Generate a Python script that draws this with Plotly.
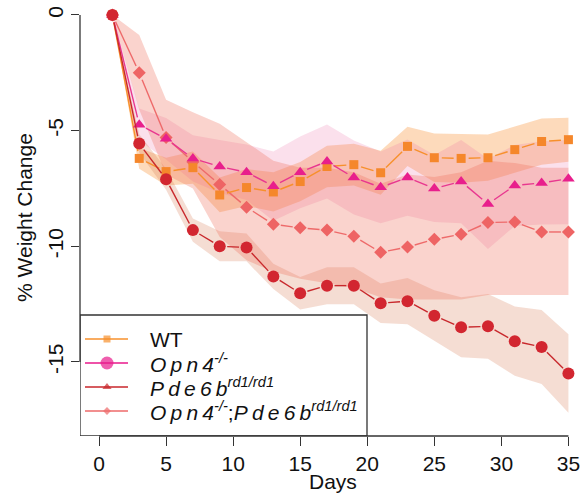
import math
import plotly.graph_objects as go

# ---------------- data ----------------
days = [1, 3, 5, 7, 9, 11, 13, 15, 17, 19, 21, 23, 25, 27, 29, 31, 33, 35]

wt_mean = [0, -6.2, -6.77, -6.6, -7.78, -7.46, -7.65, -7.2, -6.55, -6.47, -6.82, -5.68, -6.17, -6.2, -6.17, -5.82, -5.47, -5.39]
wt_upper = [0, -5.75, -6.17, -5.9, -7.03, -6.66, -6.8, -6.35, -5.65, -5.57, -5.87, -4.83, -5.12, -5.15, -5.17, -4.82, -4.47, -4.44]
wt_lower = [0, -6.65, -7.37, -7.3, -8.53, -8.26, -8.5, -8.05, -7.45, -7.37, -7.77, -6.53, -7.22, -7.25, -7.17, -6.82, -6.47, -6.34]

opn_mean = [0, -4.74, -5.35, -6.2, -6.55, -6.8, -7.4, -6.8, -6.33, -7.03, -7.45, -7.03, -7.5, -7.2, -8.17, -7.37, -7.26, -7.08]
opn_upper = [0, -4.04, -4.45, -5.2, -5.4, -5.6, -5.9, -5.25, -4.73, -5.43, -5.9, -5.38, -6.05, -5.4, -6.22, -5.62, -5.46, -5.4]
opn_lower = [0, -5.44, -6.25, -7.2, -7.7, -8.0, -8.9, -8.35, -7.93, -8.63, -9.0, -8.68, -8.95, -9.0, -10.12, -9.12, -9.06, -9.05]

pde_mean = [0, -5.56, -7.1, -9.3, -10.0, -10.05, -11.3, -12.03, -11.7, -11.7, -12.46, -12.37, -13.0, -13.5, -13.46, -14.1, -14.35, -15.5]
pde_upper = [0, -5.16, -6.65, -8.8, -9.35, -9.45, -10.75, -11.33, -10.9, -10.9, -11.61, -11.37, -11.9, -12.2, -12.06, -12.6, -12.75, -13.8]
pde_lower = [0, -5.96, -7.55, -9.8, -10.65, -10.65, -11.85, -12.73, -12.5, -12.5, -13.31, -13.37, -14.1, -14.8, -14.86, -15.6, -15.95, -17.2]

dko_mean = [0, -2.5, -5.3, -6.35, -7.33, -8.31, -9.05, -9.2, -9.3, -9.57, -10.26, -10.03, -9.7, -9.48, -8.97, -8.95, -9.38, -9.38]
dko_upper = [0, -0.86, -3.66, -4.2, -4.7, -5.5, -6.3, -6.6, -6.6, -6.8, -7.3, -6.9, -7.0, -6.8, -6.3, -6.4, -6.6, -6.6]
dko_lower = [0, -4.1, -6.9, -7.5, -9.6, -10.6, -11.1, -11.4, -11.6, -11.8, -12.2, -12.3, -12.3, -12.3, -12.1, -12.1, -12.1, -12.1]

x_ticks = [0, 5, 10, 15, 20, 25, 30, 35]
y_ticks = [0, -5, -10, -15]
x_title = "Days"
y_title = "% Weight Change"
TS = "\u2009"  # thin space to mimic the wide letter spacing of the italic labels
legend_labels = [
    "WT",
    "<i>" + TS.join("Opn4") + "</i><sup><i>-/-</i></sup>",
    "<i>" + TS.join("Pde6b") + "</i><sup><i>rd1/rd1</i></sup>",
    "<i>" + TS.join("Opn4") + "</i><sup><i>-/-</i></sup>;<i>" + TS.join("Pde6b") + "</i><sup><i>rd1/rd1</i></sup>",
]

# ---------------- layout geometry ----------------
W, H = 586, 499
ML, MR, MT, MB = 80, 0, 0, 63
PW, PH = W - ML - MR, H - MT - MB
XR = [-1.417, 36.31]
YR = [-18.2, 0.648]
SX = PW / (XR[1] - XR[0])
SY = PH / (YR[1] - YR[0])
FONT = "Liberation Sans, Arial, sans-serif"
FS = 21
AX = "#333333"

fig = go.Figure()

# ---------------- bands ----------------
bands = [
    (wt_upper, wt_lower, "rgba(248,150,60,0.35)"),
    (opn_upper, opn_lower, "rgba(235,100,160,0.20)"),
    (pde_upper, pde_lower, "rgba(215,120,80,0.25)"),
    (dko_upper, dko_lower, "rgba(240,110,90,0.30)"),
]
for up, lo, col in bands:
    fig.add_trace(go.Scatter(
        x=days + days[::-1], y=up + lo[::-1], fill="toself", fillcolor=col,
        line=dict(width=0), mode="lines", hoverinfo="skip", showlegend=False))


# ---------------- lines with gaps around points (like R type="b") ----------------
def gapped(xs, ys, gap=7.5):
    gx, gy = [], []
    for i in range(len(xs) - 1):
        dx = (xs[i + 1] - xs[i]) * SX
        dy = (ys[i + 1] - ys[i]) * SY
        L = math.hypot(dx, dy)
        if L <= 2 * gap:
            continue
        f = gap / L
        gx += [xs[i] + f * (xs[i + 1] - xs[i]), xs[i + 1] - f * (xs[i + 1] - xs[i]), None]
        gy += [ys[i] + f * (ys[i + 1] - ys[i]), ys[i + 1] - f * (ys[i + 1] - ys[i]), None]
    return gx, gy


series = [
    (dko_mean, "#ee6a6a", "#ee6464", "diamond", 10),
    (wt_mean, "#f7902c", "#f5872b", "square", 9),
    (opn_mean, "#e8378f", "#e81f8c", "triangle-up", 11),
    (pde_mean, "#c8282c", "#d22630", "circle", 12),
]
for ys, lcol, mcol, sym, sz in series:
    gx, gy = gapped(days, ys)
    fig.add_trace(go.Scatter(x=gx, y=gy, mode="lines", line=dict(color=lcol, width=1.4),
                             hoverinfo="skip", showlegend=False))
    fig.add_trace(go.Scatter(x=days, y=ys, mode="markers",
                             marker=dict(symbol=sym, size=sz, color=mcol, line=dict(width=0)),
                             showlegend=False))

# ---------------- axis lines (R style, only between end ticks) ----------------
fig.add_shape(type="line", xref="x", yref="paper", x0=x_ticks[0], x1=x_ticks[-1], y0=0, y1=0,
              line=dict(color=AX, width=1.3))
fig.add_shape(type="line", xref="paper", yref="y", x0=0, x1=0, y0=y_ticks[-1], y1=y_ticks[0],
              line=dict(color=AX, width=1.3))

# ---------------- legend (overlay axes in pixel units) ----------------
LX0, LX1, LY0, LY1 = 80, 367, 315, 436
fig.add_trace(go.Scatter(x=[LX0, LX1, LX1, LX0, LX0], y=[LY0, LY0, LY1, LY1, LY0],
                         xaxis="x2", yaxis="y2", mode="lines", fill="toself", fillcolor="white",
                         line=dict(color=AX, width=1.3), hoverinfo="skip", showlegend=False))
leg_keys = [
    ("#f7902c", "square", 7),
    ("#e8198b", "circle", 13),
    ("#c8262b", "triangle-up", 8),
    ("#ee6a6a", "diamond", 6),
]
leg_y = [339, 363, 387, 411]
for (col, sym, sz), yy, lab in zip(leg_keys, leg_y, legend_labels):
    fig.add_trace(go.Scatter(x=[85, 107, 128], y=[yy] * 3, xaxis="x2", yaxis="y2",
                             mode="lines+markers", line=dict(color=col, width=1.6),
                             marker=dict(symbol=sym, size=[0, sz, 0], color=col, line=dict(width=0)),
                             hoverinfo="skip", showlegend=False))
    fig.add_annotation(x=148, y=yy, xref="x2", yref="y2", text=lab, showarrow=False,
                       xanchor="left", yanchor="middle", font=dict(size=FS, color="#111111", family=FONT))

# axis titles (paper coordinates)
fig.add_annotation(x=0.5, xref="paper", y=-(482 - (H - MB)) / PH, yref="paper", text=x_title,
                   showarrow=False, xanchor="center", yanchor="middle",
                   font=dict(size=FS, color="#111111", family=FONT))
fig.add_annotation(x=-(ML - 24) / PW, xref="paper", y=0.5, yref="paper", text=y_title,
                   showarrow=False, textangle=-90, xanchor="center", yanchor="middle",
                   font=dict(size=FS, color="#111111", family=FONT))

fig.update_layout(
    width=W, height=H, margin=dict(l=ML, r=MR, t=MT, b=MB),
    paper_bgcolor="white", plot_bgcolor="white", showlegend=False,
    font=dict(family=FONT, size=FS, color="#111111"),
    xaxis=dict(range=XR, tickvals=x_ticks, ticks="outside", ticklen=9, tickwidth=1.3, tickcolor=AX,
               showgrid=False, zeroline=False, showline=False, tickfont=dict(size=FS)),
    yaxis=dict(range=YR, tickvals=y_ticks, ticktext=[str(v) for v in y_ticks], ticks="outside",
               ticklen=8, tickwidth=1.3, tickcolor=AX, tickangle=-90,
               showgrid=False, zeroline=False, showline=False, tickfont=dict(size=FS)),
    xaxis2=dict(overlaying="x", range=[ML, W], visible=False, fixedrange=True),
    yaxis2=dict(overlaying="y", range=[H - MB, MT], visible=False, fixedrange=True),
)

fig.write_html("out.html")
